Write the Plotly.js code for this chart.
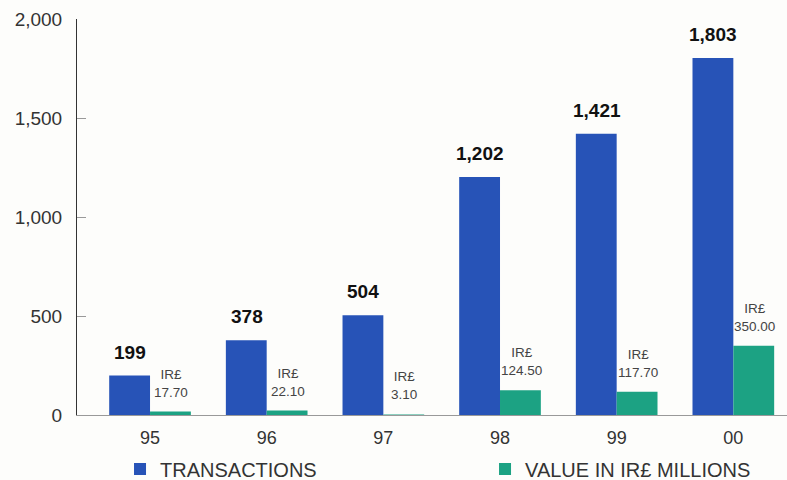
<!DOCTYPE html>
<html>
<head>
<meta charset="utf-8">
<script src="https://cdn.plot.ly/plotly-3.0.1.min.js"></script>
<style>html,body{margin:0;padding:0;background:#fdfdfb;}#chart{width:787px;height:480px;}</style>
</head>
<body>
<div id="chart"></div>
<script>
const categories = ["95", "96", "97", "98", "99", "00"];
const transactions = [199, 378, 504, 1202, 1421, 1803];
const transactionLabels = ["199", "378", "504", "1,202", "1,421", "1,803"];
const valueMillions = [17.70, 22.10, 3.10, 124.50, 117.70, 350.00];
const valueLabels = ["IR£<br>17.70", "IR£<br>22.10", "IR£<br>3.10", "IR£<br>124.50", "IR£<br>117.70", "IR£<br>350.00"];
const yTickVals = [0, 500, 1000, 1500, 2000];
const yTickText = ["0", "500", "1,000", "1,500", "2,000"];
const seriesNames = ["TRANSACTIONS", "VALUE IN IR£ MILLIONS"];

const blue = "#2753B7";
const green = "#1CA283";
const font = "Liberation Sans, Arial, sans-serif";

const traces = [
  {type: "bar", x: categories, y: transactions, name: seriesNames[0], marker: {color: blue}, hoverinfo: "skip", legend: "legend"},
  {type: "bar", x: categories, y: valueMillions, name: seriesNames[1], marker: {color: green}, hoverinfo: "skip", legend: "legend2"}
];

const annotations = [];
categories.forEach((c, i) => {
  annotations.push({x: i, y: transactions[i], text: transactionLabels[i], showarrow: false,
    xshift: -20, yanchor: "bottom", yshift: 11, font: {family: font, size: 19, color: "#111", weight: "bold"}});
  annotations.push({x: i, y: valueMillions[i], text: valueLabels[i], showarrow: false,
    xshift: 21, yanchor: "bottom", yshift: 10, font: {family: font, size: 13.5, color: "#444"}});
});

const legendCommon = {orientation: "h", xref: "container", yref: "container", yanchor: "middle", xanchor: "left",
  font: {family: font, size: 20, color: "#333"}, bgcolor: "rgba(0,0,0,0)"};

const layout = {
  width: 787, height: 480,
  paper_bgcolor: "#fdfdfb", plot_bgcolor: "#fdfdfb",
  margin: {l: 77, r: 0, t: 19, b: 65},
  barmode: "group", bargap: 0.3, bargroupgap: 0,
  font: {family: font, color: "#333"},
  xaxis: {type: "category", range: [-0.626, 5.46], showline: true, linecolor: "#999", linewidth: 1,
    ticks: "", showgrid: false, zeroline: false, tickfont: {size: 18, color: "#333"}, ticklabelstandoff: 6},
  yaxis: {range: [0, 2000], tickvals: yTickVals, ticktext: yTickText, showline: true, linecolor: "#333",
    linewidth: 1, ticks: "inside", ticklen: 9, tickcolor: "#999", showgrid: false, zeroline: false,
    tickfont: {size: 19, color: "#333"}, ticklabelstandoff: 10},
  showlegend: true,
  legend: Object.assign({}, legendCommon, {x: 0.1525, y: 0.0229}),
  legend2: Object.assign({}, legendCommon, {x: 0.6163, y: 0.0229}),
  annotations: annotations
};

Plotly.newPlot("chart", traces, layout, {displayModeBar: false, staticPlot: true});
</script>
</body>
</html>
